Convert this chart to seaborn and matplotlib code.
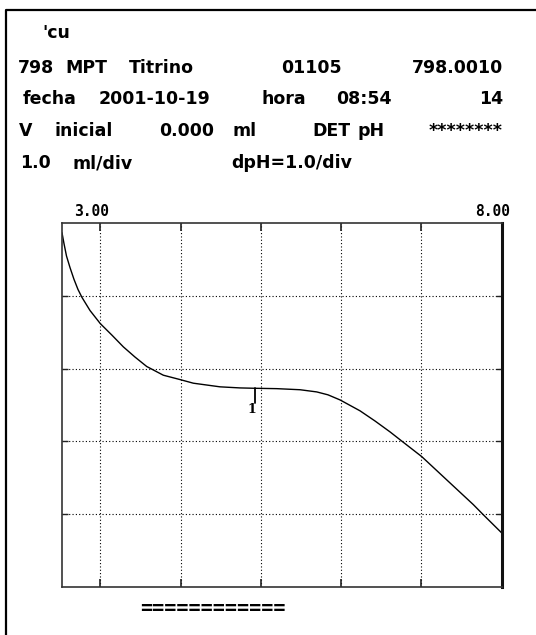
import numpy as np
import pandas as pd
import seaborn as sns
import matplotlib.pyplot as plt
from matplotlib.lines import Line2D

# titration curve (ml vs pH)
vol = [0.0, 0.025, 0.056, 0.100, 0.149, 0.199, 0.249, 0.349, 0.477, 0.623,
       0.764, 0.909, 1.055, 1.262, 1.470, 1.636, 1.968, 2.217, 2.404, 2.674,
       2.965, 3.173, 3.313, 3.463, 3.712, 3.899, 4.086, 4.248, 4.481, 4.792,
       5.123, 5.248, 5.477]
ph = [7.87, 7.72, 7.55, 7.39, 7.23, 7.09, 6.98, 6.80, 6.62, 6.46,
      6.30, 6.16, 6.03, 5.91, 5.85, 5.80, 5.75, 5.735, 5.73, 5.725,
      5.71, 5.68, 5.64, 5.57, 5.42, 5.28, 5.13, 4.99, 4.79, 4.47,
      4.13, 3.99, 3.74]

# endpoint marker
ep_vol = 2.404
ep_ph = [5.73, 5.53]
ep_label = '1'

ph_min, ph_max = 3.00, 8.00
vol_span = 5.477
vol_ticks = np.arange(0.477, 5.5, 1.0)

# header lines: (text, x centre px, baseline px)
header = [
    ("'cu", 56, 38),
    ('798', 36, 73), ('MPT', 86.5, 73), ('Titrino', 161.5, 73),
    ('01105', 311, 73),
    ('fecha', 50, 104.5), ('2001-10-19', 154, 104.5), ('hora', 283.5, 104.5),
    ('08:54', 364, 104.5),
    ('V', 26, 136), ('inicial', 83.5, 136), ('0.000', 187, 136), ('ml', 244.5, 136),
    ('DET', 331.5, 136), ('pH', 371, 136),
    ('1.0', 35, 168), ('ml/div', 102.5, 168), ('dpH=1.0/div', 292, 168),
]
header_right = [('798.0010', 503, 73), ('14', 503, 104.5), ('********', 503, 136)]

W, H = 536, 635

sns.set_style('white')
plt.rcParams['font.family'] = ['DejaVu Sans']
plt.rcParams['text.color'] = 'black'

fig = plt.figure(figsize=(W / 100, H / 100), dpi=100)
ax = fig.add_axes([62 / W, 1 - 586.7 / H, 439.7 / W, 363.4 / H])

df = pd.DataFrame({'vol': vol, 'ph': ph})
sns.lineplot(data=df, x='vol', y='ph', sort=False, color='black', lw=1.0, ax=ax)
ax.plot([ep_vol, ep_vol], ep_ph, color='black', lw=1.3)
ax.text(ep_vol + 0.01, ep_ph[1], ep_label, ha='right', va='top',
        fontsize=9, fontweight='bold', family='DejaVu Serif', color='black')

ax.set_xlim(0, vol_span)
ax.set_ylim(ph_min, ph_max)
ax.set_xticks(vol_ticks)
ax.set_yticks(np.arange(ph_min + 1, ph_max, 1.0))
ax.set_xticklabels([])
ax.set_yticklabels([])
ax.set_xlabel('')
ax.set_ylabel('')
ax.grid(True, color='black', linestyle=(0, (1, 2)), linewidth=0.8)
ax.tick_params(axis='x', direction='in', length=6, width=1.2, top=True, bottom=True, color='#222')
ax.tick_params(axis='y', direction='in', length=4, width=1.0, left=True, right=True, color='#222')
for side, sp in ax.spines.items():
    sp.set_color('#333')
    sp.set_linewidth(1.2)
ax.spines['right'].set_linewidth(2.2)
ax.spines['right'].set_color('#111')

# scale end labels above the box
fig.text(92 / W, 1 - 211 / H, f'{ph_min:.2f}', ha='center', va='center',
         fontsize=10.5, fontweight='bold', family='DejaVu Sans Mono')
fig.text(493 / W, 1 - 211 / H, f'{ph_max:.2f}', ha='center', va='center',
         fontsize=10.5, fontweight='bold', family='DejaVu Sans Mono')

for t, x, y in header:
    fig.text(x / W, 1 - y / H, t, ha='center', va='baseline',
             fontsize=12.5, fontweight='bold')
for t, x, y in header_right:
    fig.text(x / W, 1 - y / H, t, ha='right', va='baseline',
             fontsize=12.5, fontweight='bold')

fig.text(213 / W, 1 - 608.5 / H, '=' * 12, ha='center', va='center',
         fontsize=14.5, fontweight='bold', family='DejaVu Sans Mono')

# printout frame (left and top edges)
fig.add_artist(Line2D([6 / W, 6 / W, 1.0], [0.0, 1 - 10 / H, 1 - 10 / H],
                      transform=fig.transFigure, color='black', lw=1.6))

fig.savefig('out.png', dpi=100)
